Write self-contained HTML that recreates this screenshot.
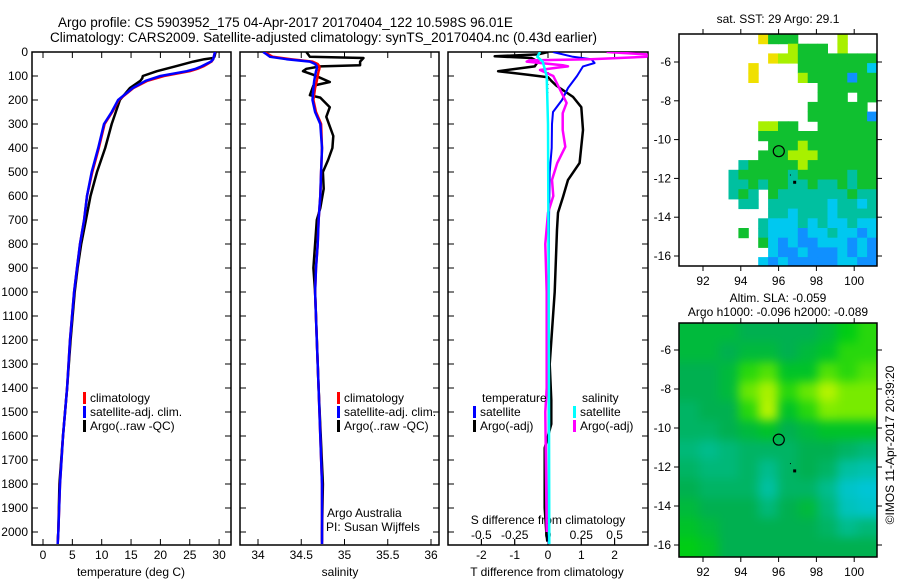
<!DOCTYPE html>
<html><head><meta charset="utf-8">
<style>
html,body{margin:0;padding:0;background:#fff;}
svg{display:block;font-family:"Liberation Sans",Arial,sans-serif;}
text{fill:#000;}
</style></head>
<body>
<svg id="fig" width="900" height="580" viewBox="0 0 900 580" xmlns="http://www.w3.org/2000/svg">
<defs>
<clipPath id="c1"><rect x="32" y="52" width="199" height="493"/></clipPath>
<clipPath id="c2"><rect x="240" y="52" width="199" height="493"/></clipPath>
<clipPath id="c3"><rect x="448" y="52" width="200" height="493"/></clipPath>
<clipPath id="cm1"><rect x="679" y="34" width="198" height="232"/></clipPath>
<clipPath id="cm2"><rect x="679" y="323" width="198" height="234"/></clipPath>
</defs>
<text x="58" y="27" font-size="13.5">Argo profile: CS 5903952_175 04-Apr-2017 20170404_122 10.598S 96.01E</text>
<text x="50" y="42" font-size="13.5">Climatology: CARS2009. Satellite-adjusted climatology: synTS_20170404.nc (0.43d earlier)</text>
<g id="g1"></g>
<g id="g2"></g>
<g id="g3"></g>
<g id="gm1"></g>
<g id="gm2"></g>
<text x="778" y="23" font-size="12" text-anchor="middle">sat. SST: 29 Argo: 29.1</text>
<text x="778" y="302" font-size="12" text-anchor="middle">Altim. SLA: -0.059</text>
<text x="778" y="316" font-size="12" text-anchor="middle">Argo h1000: -0.096 h2000: -0.089</text>
<text transform="translate(894,445) rotate(-90)" font-size="12" text-anchor="middle">©IMOS 11-Apr-2017 20:39:20</text>
</svg>
<script>
// ---------- DATA ----------
const depthTicks = [0,100,200,300,400,500,600,700,800,900,1000,1100,1200,1300,1400,1500,1600,1700,1800,1900,2000];
const tempTicks = [0,5,10,15,20,25,30];
const salTicks = [34,34.5,35,35.5,36];
const salTickLabels = ["34","34.5","35","35.5","36"];
const tdiffTicks = [-2,-1,0,1,2];
const sdiffTicks = [-0.5,-0.25,0,0.25,0.5];
const sdiffTickLabels = ["-0.5","-0.25","0","0.25","0.5"];

const profDepth = [0,10,20,30,40,50,60,70,80,100,120,150,200,250,300,400,500,600,700,800,900,1000,1200,1400,1600,1800,2000,2050];
const tempSat  = [29.3,29.2,29.1,29.0,28.6,27.8,27.0,26.0,24.5,20.0,17.5,15.3,12.8,11.7,10.4,9.4,8.3,7.5,7.0,6.3,5.8,5.3,4.6,4.1,3.4,2.9,2.6,2.5];
const tempClim = [29.3,29.2,29.1,29.0,28.7,28.0,27.3,26.3,25.0,20.6,17.8,15.4,12.9,11.8,10.5,9.5,8.4,7.5,7.0,6.3,5.8,5.3,4.6,4.1,3.4,2.9,2.6,2.5];
const argoDepth = [0,10,20,25,30,40,60,80,100,110,120,150,200,300,400,500,600,700,800,900,1000,1200,1400,1600,1800,2000,2040];
const tempArgo  = [29.4,29.3,29.2,29.0,27.5,25.6,22.5,19.4,17.0,16.9,16.6,14.8,13.1,11.7,10.6,9.2,8.1,7.3,6.5,5.9,5.4,4.7,4.1,3.4,2.8,2.6,2.5];

const salSat  = [34.06,34.10,34.14,34.33,34.60,34.66,34.68,34.68,34.67,34.66,34.65,34.64,34.63,34.66,34.72,34.74,34.73,34.72,34.70,34.69,34.67,34.66,34.68,34.70,34.72,34.74,34.74,34.74];
const salClim = [34.08,34.12,34.17,34.38,34.63,34.69,34.71,34.71,34.70,34.69,34.68,34.66,34.64,34.67,34.73,34.74,34.73,34.72,34.70,34.69,34.67,34.66,34.68,34.70,34.72,34.74,34.74,34.74];
const salArgoDepth = [0,20,25,40,55,60,70,80,95,125,140,180,190,230,270,350,400,450,500,570,650,700,900,1000,1400,1800,2000,2040];
const salArgo      = [34.56,34.60,35.22,35.18,35.18,34.72,34.56,34.52,34.64,34.83,34.64,34.60,34.72,34.83,34.79,34.87,34.86,34.81,34.75,34.76,34.72,34.68,34.64,34.66,34.70,34.75,34.74,34.74];

const tdiffSatDepth = [0,20,30,46,60,100,150,200,250,300,400,500,700,1000,1500,2050];
const tdiffSat      = [0.15,0.75,1.3,1.4,1.05,0.87,0.6,0.42,0.15,0.12,0.11,0.05,0.03,0.02,0.02,0.02];
const tdiffArgoDepth = [0,10,18,25,40,60,80,95,105,120,140,187,230,325,462,533,604,670,740,1000,1300,1450,1550,1650,1900,2000,2040];
const tdiffArgo      = [0,-0.3,-1.6,-0.5,-0.3,-0.4,-1.5,-0.6,0,0.1,0.25,0.75,1.0,1.05,0.95,0.6,0.45,0.3,0.27,0.2,0.05,0.1,0.1,-0.1,-0.1,-0.05,-0.02];
const sdiffArgoDepth = [0,10,20,30,35,40,55,60,65,75,100,212,255,325,395,462,533,600,670,800,1000,1400,1500,2000];
const sdiffArgo      = [0.44,0.74,0.74,0.32,-0.14,-0.16,0.11,0.15,0.07,-0.06,0.04,0.14,0.11,0.11,0.13,0.07,0.03,0.04,0,-0.02,-0.01,-0.01,-0.02,-0.01];
const sdiffSatDepth = [0,20,40,100,300,1000,2050];
const sdiffSat      = [-0.06,-0.08,-0.04,-0.01,0,0.005,0.01];

// SST map categories: 24 rows (lat -4.6 .. -16.6, 0.5deg), 20 cols (lon 90.75 .. 100.95)
const sstRows = [
"........yggg....l...",
"...........lggg.l...",
".........yllgggggggg",
".......y....gggggggc",
".......y....lggggbgg",
"..............gggggg",
"..............ggg.gg",
".............gggggg.",
".............ggggggb",
"........llgg..gggggg",
"........gggggggggggg",
".........ggglggggggg",
"........ggglllgggggg",
"......tggggglggggggg",
".....tgggggtgggggtgg",
".....ttgtggttgttgtgg",
".....tgt.gtttttttgtt",
"......tt.ttttttcttct",
".........ttctttctttt",
"........tccctctcctcc",
"......g.tcccbcctccbc",
"........gcbcbbcccbcb",
".........cbbcbbbcbcb",
"........cbcbbbbbccbb"];
const sstColors = {y:"#f0e000",l:"#a8f000",g:"#10c030",t:"#00c0a0",c:"#00c8f0",b:"#1090ff"};

// SLA map values: 12 rows (1deg lat from -4.6), 10 cols (1deg lon from 90.75)
const slaRow0  = [0.55,0.55,0.55,0.5,0.5,0.5,0.5,0.55,0.65,0.7];
const slaRow1  = [0.55,0.55,0.5,0.55,0.55,0.5,0.55,0.6,0.7,0.7];
const slaRow2  = [0.5,0.5,0.55,0.7,0.75,0.6,0.6,0.75,0.7,0.75];
const slaRow3  = [0.5,0.5,0.55,0.78,0.92,0.7,0.78,0.95,0.8,0.8];
const slaRow4  = [0.45,0.5,0.5,0.7,0.95,0.6,0.7,0.82,0.8,0.8];
const slaRow5  = [0.45,0.45,0.5,0.55,0.6,0.5,0.55,0.6,0.6,0.6];
const slaRow6  = [0.4,0.35,0.4,0.45,0.45,0.45,0.5,0.5,0.45,0.4];
const slaRow7  = [0.45,0.4,0.4,0.45,0.35,0.45,0.5,0.45,0.3,0.25];
const slaRow8  = [0.5,0.45,0.45,0.45,0.3,0.45,0.45,0.35,0.15,0.1];
const slaRow9  = [0.55,0.5,0.5,0.5,0.4,0.5,0.55,0.4,0.2,0.15];
const slaRow10 = [0.6,0.55,0.5,0.5,0.5,0.5,0.5,0.45,0.35,0.4];
const slaRow11 = [0.65,0.6,0.5,0.5,0.5,0.5,0.5,0.5,0.5,0.5];
const slaRows = [slaRow0,slaRow1,slaRow2,slaRow3,slaRow4,slaRow5,slaRow6,slaRow7,slaRow8,slaRow9,slaRow10,slaRow11];
const lonTicks = [92,94,96,98,100];
const latTicks = [-6,-8,-10,-12,-14,-16];
const argoLon = 96.01, argoLat = -10.598;

// ---------- helpers ----------
const NS = "http://www.w3.org/2000/svg";
function mk(tag, attrs, parent){const e=document.createElementNS(NS,tag);for(const k in attrs)e.setAttribute(k,attrs[k]);parent.appendChild(e);return e;}
const yD = d => 52 + d*0.24;
const xT = t => 43 + t*5.87;
const xS = s => 258 + (s-34)*86.5;
const xTD = t => 548 + t*33.3;
const xSD = s => 548 + s*133.2;

function frame(g, x0, x1, name){
  const r = mk("rect",{x:x0,y:52,width:x1-x0,height:493,fill:"none",stroke:"#000","stroke-width":1.5},g);
  
  
  depthTicks.forEach(d=>{
    mk("line",{x1:x0,x2:x0+6,y1:yD(d),y2:yD(d),stroke:"#000"},g);
    mk("line",{x1:x1,x2:x1-6,y1:yD(d),y2:yD(d),stroke:"#000"},g);
  });
}
function line(g, xs, ds, fx, color, clip, name, w){
  const pts = xs.map((v,i)=>fx(v).toFixed(1)+","+yD(ds[i]).toFixed(1)).join(" ");
  const p = mk("polyline",{points:pts,fill:"none",stroke:color,"stroke-width":w||2.5,"stroke-linejoin":"round","clip-path":"url(#"+clip+")"},g);
  
  
}
function txt(g, x, y, s, anchor, size, name){
  const t = mk("text",{x:x,y:y,"font-size":size||12,"text-anchor":anchor||"start"},g);
  t.textContent = s;
  
  
  return t;
}
function legend(g, x, y, color, label, name){
  const b = mk("rect",{x:x,y:y-10,width:3,height:12,fill:color},g);
  
  
  txt(g, x+7, y, label, "start", 12, name+'-label');
}

// ---------- panel 1: temperature ----------
const g1 = document.getElementById("g1");
frame(g1, 32, 231, "temperature");
depthTicks.forEach(d=>txt(g1, 28, yD(d)+4, String(d), "end", 12, "depth-tick-label"));
tempTicks.forEach(t=>{
  mk("line",{x1:xT(t),x2:xT(t),y1:545,y2:539,stroke:"#000"},g1);
  mk("line",{x1:xT(t),x2:xT(t),y1:52,y2:58,stroke:"#000"},g1);
  txt(g1, xT(t), 559, String(t), "middle", 12, "temperature-tick-label");
});
txt(g1, 131, 576, "temperature (deg C)", "middle", 12, "x-axis-title-temperature");
line(g1, tempArgo, argoDepth, xT, "#000", "c1", "temperature-argo-line");
line(g1, tempClim, profDepth, xT, "#f00", "c1", "temperature-climatology-line");
line(g1, tempSat, profDepth, xT, "#00f", "c1", "temperature-satellite-line");
legend(g1, 83, 402, "#f00", "climatology", "legend-climatology");
legend(g1, 83, 416, "#00f", "satellite-adj. clim.", "legend-satellite");
legend(g1, 83, 430, "#000", "Argo(..raw -QC)", "legend-argo");

// ---------- panel 2: salinity ----------
const g2 = document.getElementById("g2");
frame(g2, 240, 439, "salinity");
salTicks.forEach((s,i)=>{
  mk("line",{x1:xS(s),x2:xS(s),y1:545,y2:539,stroke:"#000"},g2);
  mk("line",{x1:xS(s),x2:xS(s),y1:52,y2:58,stroke:"#000"},g2);
  txt(g2, xS(s), 559, salTickLabels[i], "middle", 12, "salinity-tick-label");
});
txt(g2, 340, 576, "salinity", "middle", 12, "x-axis-title-salinity");
line(g2, salArgo, salArgoDepth, xS, "#000", "c2", "salinity-argo-line");
line(g2, salClim, profDepth, xS, "#f00", "c2", "salinity-climatology-line");
line(g2, salSat, profDepth, xS, "#00f", "c2", "salinity-satellite-line");
legend(g2, 337, 402, "#f00", "climatology", "legend-climatology");
legend(g2, 337, 416, "#00f", "satellite-adj. clim.", "legend-satellite");
legend(g2, 337, 430, "#000", "Argo(..raw -QC)", "legend-argo");
txt(g2, 327, 517, "Argo Australia", "start", 12, "argo-australia-label");
txt(g2, 326, 531, "PI: Susan Wijffels", "start", 12, "pi-label");

// ---------- panel 3: differences ----------
const g3 = document.getElementById("g3");
frame(g3, 448, 648, "difference");
tdiffTicks.forEach(t=>{
  mk("line",{x1:xTD(t),x2:xTD(t),y1:545,y2:539,stroke:"#000"},g3);
  mk("line",{x1:xTD(t),x2:xTD(t),y1:52,y2:58,stroke:"#000"},g3);
  txt(g3, xTD(t), 559, String(t), "middle", 12, "tdiff-tick-label");
});
sdiffTicks.forEach((s,i)=>{
  mk("line",{x1:xSD(s),x2:xSD(s),y1:539,y2:545,stroke:"#000"},g3);
  txt(g3, xSD(s), 539, sdiffTickLabels[i], "middle", 12, "sdiff-tick-label");
});
txt(g3, 548, 524, "S difference from climatology", "middle", 12, "sdiff-axis-title");
txt(g3, 547, 576, "T difference from climatology", "middle", 12, "x-axis-title-tdiff");
mk("line",{x1:548,x2:548,y1:52,y2:170,stroke:"#000","stroke-dasharray":"1,3"},g3);
line(g3, tdiffArgo, tdiffArgoDepth, xTD, "#000", "c3", "tdiff-argo-line");
line(g3, tdiffSat, tdiffSatDepth, xTD, "#00f", "c3", "tdiff-satellite-line", 2);
line(g3, sdiffArgo, sdiffArgoDepth, xSD, "#f0f", "c3", "sdiff-argo-line");
line(g3, sdiffSat, sdiffSatDepth, xSD, "#0ff", "c3", "sdiff-satellite-line");
txt(g3, 482, 402, "temperature", "start", 12, "legend-temperature-heading");
legend(g3, 473, 416, "#00f", "satellite", "legend-t-satellite");
legend(g3, 473, 430, "#000", "Argo(-adj)", "legend-t-argo");
txt(g3, 582, 402, "salinity", "start", 12, "legend-salinity-heading");
legend(g3, 573, 416, "#0ff", "satellite", "legend-s-satellite");
legend(g3, 573, 430, "#f0f", "Argo(-adj)", "legend-s-argo");

// ---------- maps ----------
const xL = lon => 703 + (lon-92)*18.9;
function mapAxes(g, top, bottom, yLat, name){
  const r = mk("rect",{x:679,y:top,width:198,height:bottom-top,fill:"none",stroke:"#000","stroke-width":1.5},g);
  
  
  lonTicks.forEach(l=>{
    mk("line",{x1:xL(l),x2:xL(l),y1:bottom,y2:bottom+5,stroke:"#000"},g);
    mk("line",{x1:xL(l),x2:xL(l),y1:top,y2:top-5,stroke:"#000"},g);
    txt(g, xL(l), bottom+19, String(l), "middle", 12, name+"-lon-tick-label");
  });
  latTicks.forEach(l=>{
    mk("line",{x1:679,x2:674,y1:yLat(l),y2:yLat(l),stroke:"#000"},g);
    mk("line",{x1:877,x2:882,y1:yLat(l),y2:yLat(l),stroke:"#000"},g);
    txt(g, 671, yLat(l)+4, String(l), "end", 12, name+"-lat-tick-label");
  });
  const c = mk("circle",{cx:xL(argoLon),cy:yLat(argoLat),r:5.5,fill:"none",stroke:"#000","stroke-width":1.2},g);
  
  
  mk("rect",{x:xL(96.85)-1.5,y:yLat(-12.2)-1.5,width:3,height:3,fill:"#000"},g);
  mk("rect",{x:xL(96.6),y:yLat(-11.8),width:1,height:1,fill:"#000"},g);
}
// SST map
const gm1 = document.getElementById("gm1");
const yLat1 = lat => 62 + (-6-lat)*19.4;
const cw1 = 198/20, ch1 = 9.7;
sstRows.forEach((row,r)=>{
  for(let c=0;c<row.length;c++){
    const k=row[c]; if(k===".") continue;
    const cell = mk("rect",{x:(679+c*cw1).toFixed(1),y:(34+r*ch1).toFixed(1),width:(cw1+0.5).toFixed(1),height:(ch1+0.5).toFixed(1),fill:sstColors[k],"clip-path":"url(#cm1)"},gm1);
    
    
  }
});
mapAxes(gm1, 34, 266, yLat1, "sst-map");

// SLA map
const gm2 = document.getElementById("gm2");
const yLat2 = lat => 350 + (-6-lat)*19.5;
function slaColor(v){
  const stops=[[0,[0,200,240]],[0.3,[0,192,160]],[0.5,[0,176,80]],[0.65,[0,205,20]],[0.8,[120,235,0]],[1,[200,245,0]]];
  for(let i=1;i<stops.length;i++){ if(v<=stops[i][0]){const a=stops[i-1],b=stops[i];const f=(v-a[0])/(b[0]-a[0]);return "rgb("+a[1].map((q,j)=>Math.round(q+(b[1][j]-q)*f)).join(",")+")";}}
  return "rgb(200,245,0)";
}
const cw2 = 198/10, ch2 = 234/12;
const slaG = mk("g",{"clip-path":"url(#cm2)"},gm2);
const slaInner = mk("g",{style:"filter:blur(5px)"},slaG);
slaRows.forEach((row,r)=>{
  row.forEach((v,c)=>{
    const cell = mk("rect",{x:(679+c*cw2-(c===0?10:0)).toFixed(1),y:(323+r*ch2-(r===0?10:0)).toFixed(1),width:(cw2+0.5+(c===0||c===9?10:0)).toFixed(1),height:(ch2+0.5+(r===0||r===11?10:0)).toFixed(1),fill:slaColor(v)},slaInner);
    
    
  });
});
mapAxes(gm2, 323, 557, yLat2, "sla-map");
</script>
</body></html>
